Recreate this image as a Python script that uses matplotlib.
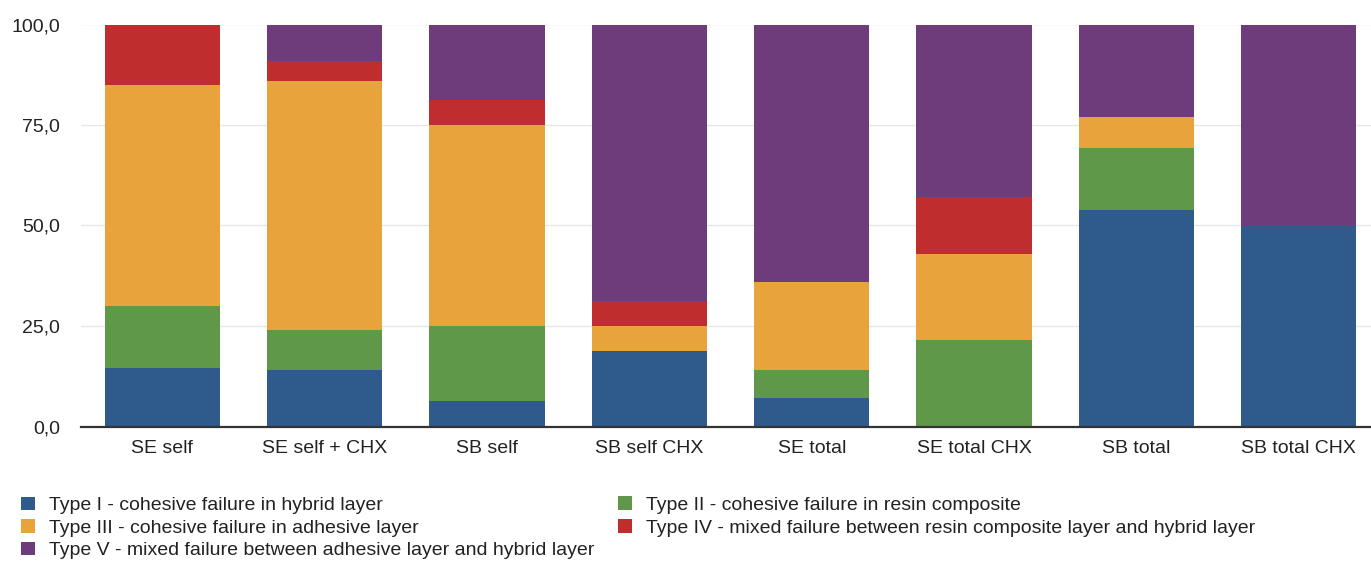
import numpy as np
from matplotlib import pyplot as plt

groups = ["SE self", "SE self + CHX", "SB self", "SB self CHX",
          "SE total", "SE total CHX", "SB total", "SB total CHX"]

type_1 = [14.6, 14.0, 6.25, 18.75, 7.0, 0.0, 53.8, 50.0]
type_2 = [15.4, 10.0, 18.75, 0.0, 7.0, 21.4, 15.4, 0.0]
type_3 = [55.0, 62.0, 50.0, 6.25, 22.0, 21.4, 7.7, 0.0]
type_4 = [15.0, 5.0, 6.25, 6.25, 0.0, 14.3, 0.0, 0.0]
type_5 = [0.0, 9.0, 18.75, 68.75, 64.0, 42.9, 23.1, 50.0]

labels = ["Type I - cohesive failure in hybrid layer",
          "Type II - cohesive failure in resin composite",
          "Type III - cohesive failure in adhesive layer",
          "Type IV - mixed failure between resin composite layer and hybrid layer",
          "Type V - mixed failure between adhesive layer and hybrid layer"]
colors = ["#2f5a8c", "#5f9848", "#e8a33c", "#c02d2e", "#6e3b7b"]

ticks = [0, 25, 50, 75, 100]
tick_labels = ["0,0", "25,0", "50,0", "75,0", "100,0"]

plt.rcParams['font.family'] = ['Liberation Sans', 'DejaVu Sans']

W, H = 1371, 563
fig = plt.figure(figsize=(W / 100, H / 100), dpi=100)
ax = fig.add_axes([81 / W, 136.5 / H, 1299 / W, 402 / H])

x = np.arange(len(groups))
bottom = np.zeros(len(groups))
handles = []
for vals, lab, col in zip([type_1, type_2, type_3, type_4, type_5], labels, colors):
    b = ax.bar(x, vals, width=0.71, bottom=bottom, color=col, label=lab, zorder=2)
    handles.append(b)
    bottom += np.array(vals)

ax.set_xlim(-0.5, len(groups) - 0.5)
ax.set_ylim(0, 100)
ax.set_yticks(ticks)
ax.set_yticklabels(tick_labels)
ax.set_xticks(x)
ax.set_xticklabels(groups)
ax.tick_params(axis='both', length=0, labelsize=14, colors='#222222')
ax.tick_params(axis='y', pad=15)
ax.tick_params(axis='x', pad=10)

for t in ticks[1:]:
    ax.axhline(t, color='#e6e6e6', lw=1, zorder=1)
for s in ax.spines.values():
    s.set_visible(False)
ax.axhline(0, color='#333333', lw=1.6, zorder=3, clip_on=False)

leg_kw = dict(frameon=False, fontsize=14, borderpad=0, handlelength=0.72,
              handleheight=0.7, handletextpad=0.72, labelspacing=0.25,
              borderaxespad=0)
leg1 = fig.legend([handles[0], handles[2], handles[4]],
                  [labels[0], labels[2], labels[4]],
                  loc='center left', bbox_to_anchor=(21 / W, 1 - 528 / H), **leg_kw)
for t in leg1.get_texts():
    t.set_color('#222222')
leg2 = fig.legend([handles[1], handles[3]], [labels[1], labels[3]],
                  loc='center left', bbox_to_anchor=(618 / W, 1 - 516.5 / H), **leg_kw)
for t in leg2.get_texts():
    t.set_color('#222222')

plt.savefig('out.png', dpi=100)
plt.close()
